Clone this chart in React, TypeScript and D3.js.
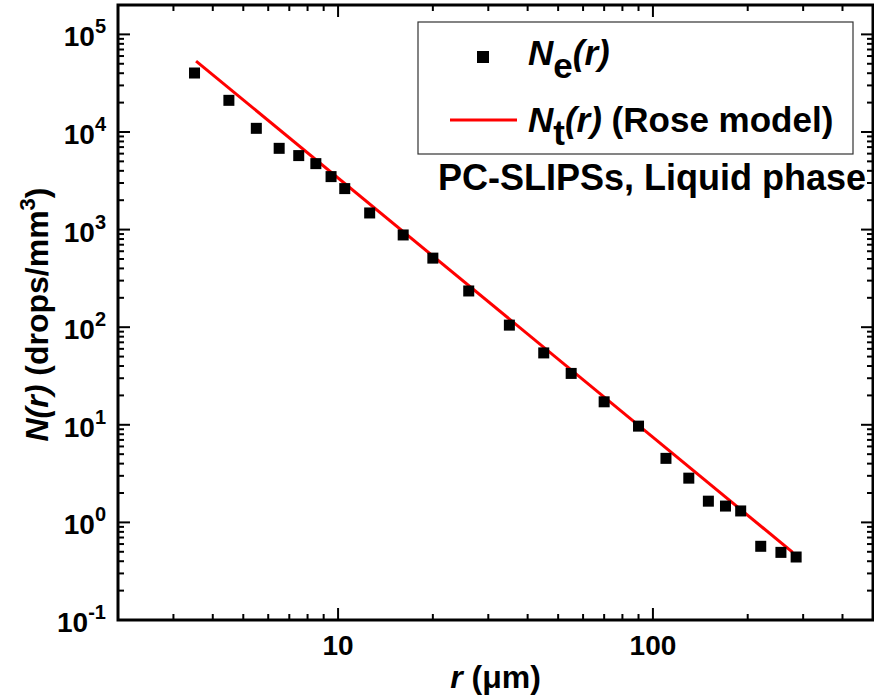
import React from "react";
import * as d3 from "d3";

const radius = [3.5, 4.5, 5.5, 6.5, 7.5, 8.5, 9.5, 10.5, 12.6, 16.1, 20, 26, 35, 45, 55, 70, 90, 110, 130, 150, 170, 190, 220, 255, 285];
const nExp = [40200, 21100, 10900, 6800, 5730, 4740, 3490, 2630, 1480, 881, 510, 235, 105, 54.5, 33.6, 17.2, 9.69, 4.53, 2.84, 1.65, 1.47, 1.31, 0.569, 0.493, 0.442];
const rModel = [3.54, 278];
const nModel = [53300, 0.493];
const xMajor = [10, 100];
const xMajorLabels = ["10", "100"];
const yExponents = [-1, 0, 1, 2, 3, 4, 5];

const W = 874, H = 695;
const L = 118, R = 873, T = 5, B = 620;
const FONT = "'Liberation Sans', Arial, Helvetica, sans-serif";

export default function App() {
  const x = d3.scaleLog().domain([2, 500]).range([L, R]);
  const y = d3.scaleLog().domain([0.1, 2e5]).range([B, T]);

  const xMinor: number[] = [];
  for (const e of [0, 1, 2]) for (let k = 2; k <= 9; k++) {
    const v = k * Math.pow(10, e);
    if (v > 2 && v < 500 && v !== 10 && v !== 100) xMinor.push(v);
  }
  const yMinor: number[] = [];
  for (let e = -1; e <= 5; e++) for (let k = 2; k <= 9; k++) {
    const v = k * Math.pow(10, e);
    if (v < 2e5) yMinor.push(v);
  }
  const line = d3.line<number>().x((_, i) => x(rModel[i])).y((d) => y(d));
  const ms = 11;
  const tw = 2;

  return (
    <div style={{ position: "fixed", left: 0, top: 0 }}>
      <svg width={W} height={H} style={{ display: "block", background: "#fff" }} fontFamily={FONT}>
        <rect x={0} y={0} width={W} height={H} fill="#fff" />
        {/* ticks */}
        <g stroke="#000" strokeWidth={tw}>
          {xMajor.map((v) => (
            <g key={"xM" + v}>
              <line x1={x(v)} x2={x(v)} y1={B} y2={B - 12} />
              <line x1={x(v)} x2={x(v)} y1={T} y2={T + 12} />
            </g>
          ))}
          {xMinor.map((v) => (
            <g key={"xm" + v}>
              <line x1={x(v)} x2={x(v)} y1={B} y2={B - 6} />
              <line x1={x(v)} x2={x(v)} y1={T} y2={T + 6} />
            </g>
          ))}
          {yExponents.map((e) => (
            <g key={"yM" + e}>
              <line x1={L} x2={L + 12} y1={y(Math.pow(10, e))} y2={y(Math.pow(10, e))} />
              <line x1={R} x2={R - 12} y1={y(Math.pow(10, e))} y2={y(Math.pow(10, e))} />
            </g>
          ))}
          {yMinor.map((v) => (
            <g key={"ym" + v}>
              <line x1={L} x2={L + 6} y1={y(v)} y2={y(v)} />
              <line x1={R} x2={R - 6} y1={y(v)} y2={y(v)} />
            </g>
          ))}
        </g>
        {/* model line */}
        <path d={line(nModel) || ""} fill="none" stroke="#ff0000" strokeWidth={3} />
        {/* data */}
        {radius.map((r, i) => (
          <rect key={"p" + i} x={x(r) - ms / 2} y={y(nExp[i]) - ms / 2} width={ms} height={ms} fill="#000" />
        ))}
        {/* frame */}
        <rect x={L} y={T} width={R - L} height={B - T} fill="none" stroke="#000" strokeWidth={3} />
        {/* y tick labels */}
        {yExponents.map((e) => (
          <text key={"yl" + e} x={106} y={y(Math.pow(10, e)) + 12} textAnchor="end" fontWeight="bold" fontSize={28}>
            10<tspan dy={-13} fontSize={20}>{String(e)}</tspan>
          </text>
        ))}
        {/* x tick labels */}
        {xMajor.map((v, i) => (
          <text key={"xl" + v} x={x(v)} y={655} textAnchor="middle" fontWeight="bold" fontSize={28}>
            {xMajorLabels[i]}
          </text>
        ))}
        {/* axis titles */}
        <text x={(L + R) / 2} y={688} textAnchor="middle" fontWeight="bold" fontSize={32}>
          <tspan fontStyle="italic">r</tspan> (μm)
        </text>
        <text transform={`translate(48,${(T + B) / 2 + 2}) rotate(-90)`} textAnchor="middle" fontWeight="bold" fontSize={32}>
          <tspan fontStyle="italic">N(r)</tspan> (drops/mm<tspan dy={-13} fontSize={22}>3</tspan><tspan dy={13}>)</tspan>
        </text>
        {/* legend */}
        <rect x={418} y={22} width={435} height={132} fill="#fff" stroke="#333" strokeWidth={1.2} />
        <rect x={483 - 6} y={57 - 6} width={12} height={12} fill="#000" />
        <text x={528} y={65} fontWeight="bold" fontSize={35}>
          <tspan fontStyle="italic">N</tspan><tspan dy={13}>e</tspan><tspan dy={-13} fontStyle="italic">(r)</tspan>
        </text>
        <line x1={450} x2={517} y1={120} y2={120} stroke="#ff0000" strokeWidth={3} />
        <text x={528} y={132} fontWeight="bold" fontSize={35}>
          <tspan fontStyle="italic">N</tspan><tspan dy={13}>t</tspan><tspan dy={-13} fontStyle="italic">(r)</tspan> (Rose model)
        </text>
        <text x={866} y={190} textAnchor="end" fontWeight="bold" fontSize={36}>
          PC-SLIPSs, Liquid phase
        </text>
      </svg>
    </div>
  );
}
